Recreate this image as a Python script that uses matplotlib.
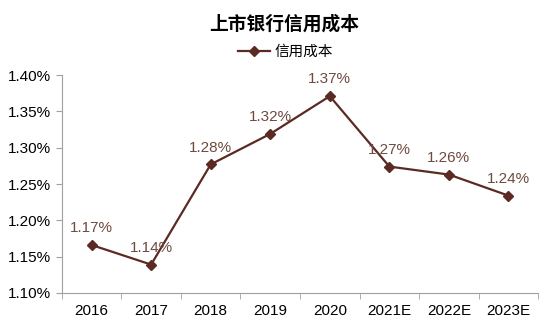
import matplotlib.pyplot as plt

plt.rcParams['font.family'] = ['Liberation Sans', 'Noto Sans CJK SC', 'DejaVu Sans']

years = ['2016', '2017', '2018', '2019', '2020', '2021E', '2022E', '2023E']
credit_cost = [1.166, 1.139, 1.277, 1.319, 1.371, 1.274, 1.263, 1.234]
labels = ['1.17%', '1.14%', '1.28%', '1.32%', '1.37%', '1.27%', '1.26%', '1.24%']

line_c = '#5b2a22'
axis_c = '#a0a0a0'

fig = plt.figure(figsize=(5.47, 3.28), dpi=100)
ax = fig.add_axes([0.113, 0.107, 0.871, 0.664])

x = list(range(len(years)))
ax.plot(x, credit_cost, color=line_c, lw=1.6, marker='D', ms=5, label='信用成本')
for xi, v, s in zip(x, credit_cost, labels):
    ax.annotate(s, (xi, v), xytext=(0, 7), textcoords='offset points',
                ha='center', va='bottom', fontsize=11, color='#6e4a40')

ax.set_xlim(-0.5, len(years) - 0.5)
ax.set_ylim(1.10, 1.40)
ax.set_yticks([1.10, 1.15, 1.20, 1.25, 1.30, 1.35, 1.40])
ax.set_yticklabels([f'{v:.2f}%' for v in ax.get_yticks()], fontsize=11)
ax.set_xticks(x)
ax.set_xticklabels(years, fontsize=11)
ax.set_xticks([i - 0.5 for i in range(len(years) + 1)], minor=True)
ax.tick_params(axis='x', which='major', length=0, pad=8)
ax.tick_params(axis='x', which='minor', length=4, color=axis_c)
ax.tick_params(axis='y', length=4, color=axis_c, pad=4)

for s in ['top', 'right']:
    ax.spines[s].set_visible(False)
for s in ['left', 'bottom']:
    ax.spines[s].set_color(axis_c)

fig.text(0.52, 0.925, '上市银行信用成本', ha='center', va='center',
         fontsize=13.5, fontweight='bold', family=['Noto Sans CJK SC'])
ax.legend(loc='center', bbox_to_anchor=(0.47, 1.105), frameon=False,
          prop={'family': 'Noto Sans CJK SC', 'size': 10.5}, handlelength=2.2,
          handletextpad=0.3)

fig.savefig('out.png', dpi=100)
